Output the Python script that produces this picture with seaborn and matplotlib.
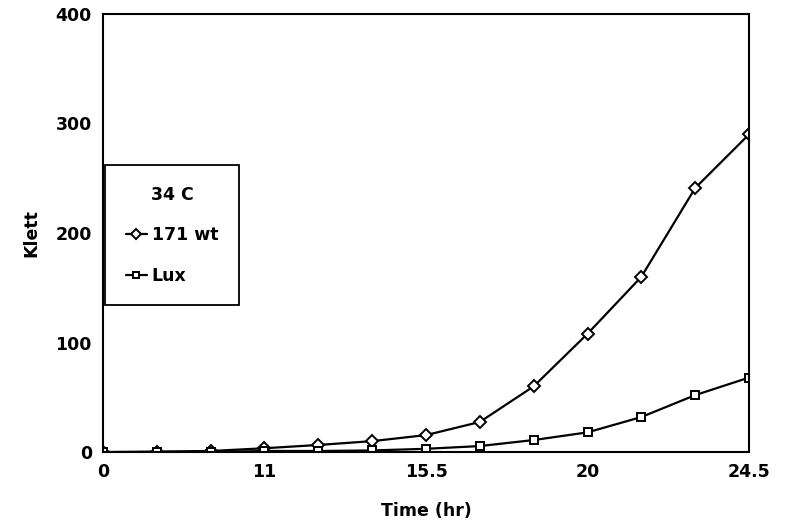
import pandas as pd
import matplotlib
matplotlib.use("Agg")
import matplotlib.pyplot as plt
import seaborn as sns

# time points (plotted evenly spaced, as categories); only some are labelled
time_index = list(range(13))
tick_labels = ["0", "", "", "11", "", "", "15.5", "", "", "20", "", "", "24.5"]

wt_klett = [0, 0.5, 1, 3.5, 6.5, 10, 15.5, 27.5, 60, 108, 160, 241, 290]
lux_klett = [0, 0, 0, 1, 1, 1.5, 3, 5.5, 11, 18, 32, 52, 68]

strains = ["171 wt", "Lux"]

df = pd.concat([
    pd.DataFrame({"t": time_index, "klett": wt_klett, "strain": strains[0]}),
    pd.DataFrame({"t": time_index, "klett": lux_klett, "strain": strains[1]}),
])

sns.set_style("white")
plt.rcParams["font.family"] = ["DejaVu Sans"]
plt.rcParams["font.weight"] = "bold"
plt.rcParams["text.color"] = "black"
plt.rcParams["axes.labelcolor"] = "black"
plt.rcParams["xtick.color"] = "black"
plt.rcParams["ytick.color"] = "black"

fig = plt.figure(figsize=(7.86, 5.30), dpi=100)
ax = fig.add_axes([0.131, 0.147, 0.822, 0.827])

sns.lineplot(data=df, x="t", y="klett", hue="strain", style="strain",
             markers={"171 wt": "D", "Lux": "s"}, dashes=False,
             palette={"171 wt": "black", "Lux": "black"},
             linewidth=1.6, markersize=6, markerfacecolor="white",
             markeredgecolor="black", markeredgewidth=1.4, ax=ax)

ax.set_xlim(0, 12)
ax.set_ylim(0, 400)
ax.set_xticks(time_index)
ax.set_xticklabels(tick_labels)
ax.set_yticks([0, 100, 200, 300, 400])
ax.tick_params(axis="both", length=0, labelsize=12.5, pad=8, colors="black")
for lbl in ax.get_xticklabels() + ax.get_yticklabels():
    lbl.set_fontweight("bold")

ax.set_xlabel("Time (hr)", fontsize=12.5, fontweight="bold", labelpad=15,
              color="black")
ax.set_ylabel("Klett", fontsize=12.5, fontweight="bold", labelpad=11,
              color="black")

for sp in ax.spines.values():
    sp.set_visible(True)
    sp.set_color("black")
    sp.set_linewidth(1.5)

handles, labels = ax.get_legend_handles_labels()
leg = ax.legend(handles, labels, title="34 C", loc="upper left",
                bbox_to_anchor=(0.003, 0.655), borderaxespad=0,
                fancybox=False, edgecolor="black", framealpha=1,
                handlelength=1.2, handletextpad=0.3, borderpad=1.2,
                labelspacing=1.3,
                prop={"size": 12.5, "weight": "bold"},
                title_fontproperties={"size": 12.5, "weight": "bold"})
leg.get_frame().set_linewidth(1.3)
leg._legend_box.sep = 16
for h in leg.legend_handles:
    h.set_markersize(5)

fig.savefig("out.png", dpi=100)
